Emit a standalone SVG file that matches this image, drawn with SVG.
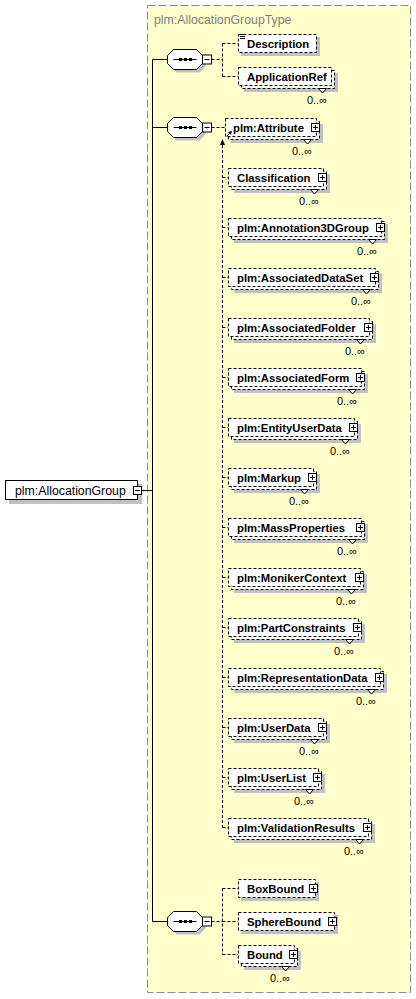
<svg xmlns="http://www.w3.org/2000/svg" xmlns:xlink="http://www.w3.org/1999/xlink" width="416" height="999" viewBox="0 0 416 999">
<style>
.bg{fill:#FFFFCC;stroke:#8c8c8c;stroke-dasharray:8 3}
.title{font-family:"Liberation Sans",Arial,sans-serif;font-size:12.3px;fill:#808080}
.root{font-family:"Liberation Sans",Arial,sans-serif;font-size:12.3px;fill:#000}
.nm{font-family:"Liberation Sans",Arial,sans-serif;font-weight:bold;font-size:11.3px;fill:#000}
.occ{font-family:"Liberation Sans",Arial,sans-serif;font-size:11px;fill:#000;text-anchor:end}
.sh{fill:#c0c0c0;stroke:none}
.bx{fill:#fff;stroke:#000;stroke-dasharray:3 2}
.sbx{fill:#fff;stroke:#000}
.tri{fill:#fff;stroke:#000}
.cd{fill:none;stroke:#000;stroke-dasharray:3 2}
.cs{fill:none;stroke:#000}
</style>
<defs>
<g id="plus"><rect x="0.5" y="0.5" width="8" height="8" fill="#fff" stroke="#000"/><path d="M2 4.5h5M4.5 2v5" stroke="#000" fill="none"/></g>
<g id="seq">
<polygon class="sh" points="176.5,-7 199.5,-7 205.5,-1 205.5,7 199.5,13 176.5,13 170.5,7 170.5,-1"/>
<polygon fill="#fff" stroke="#000" points="173.5,-10 196.5,-10 202.5,-4 202.5,4 196.5,10 173.5,10 167.5,4 167.5,-4"/>
<path d="M173.5 0H196.5" stroke="#000" fill="none"/>
<rect x="179" y="-1.5" width="3" height="3" fill="#000"/>
<rect x="184" y="-1.5" width="3" height="3" fill="#000"/>
<rect x="189" y="-1.5" width="3" height="3" fill="#000"/>
<rect x="202.5" y="-4.5" width="9" height="9" fill="#fff" stroke="#000"/>
<path d="M204.5 0H209.5" stroke="#000"/>
</g>
</defs>

<rect class="bg" x="147.5" y="5.5" width="263" height="987"/>
<text class="title" x="154" y="23.5">plm:AllocationGroupType</text>

<g id="connectors">
<path class="cs" d="M142 490.5H152.5M152.5 59.5V921.5"/>
<path class="cs" d="M152.5 59.5H167.5M152.5 127.5H167.5M152.5 921.5H167.5"/>
<path class="cd" d="M211.5 59.5H222.5M222.5 43.5V76.5M222.5 43.5H238M222.5 76.5H238"/>
<path class="cd" d="M211.5 127.5H225"/>
<path class="cd" d="M222.5 140V827.5"/>
<path class="cd" d="M222.5 177.5H228M222.5 227.5H228M222.5 277.5H228M222.5 327.5H228M222.5 377.5H228M222.5 427.5H228M222.5 477.5H228M222.5 527.5H228M222.5 577.5H228M222.5 627.5H228M222.5 677.5H228M222.5 727.5H228M222.5 777.5H228M222.5 827.5H228"/>
<polygon points="220,145 225,145 222.5,139" fill="#000"/>
<path class="cd" d="M211.5 921.5H222.5M222.5 888.5V954.5M222.5 888.5H238M222.5 921.5H238M222.5 954.5H238"/>
</g>

<g id="seq1"><use xlink:href="#seq" href="#seq" transform="translate(0,59.5)"/></g>
<g id="seq2"><use xlink:href="#seq" href="#seq" transform="translate(0,127.5)"/></g>
<g id="seq3"><use xlink:href="#seq" href="#seq" transform="translate(0,921.5)"/></g>

<g id="root">
<rect class="sh" x="9" y="484" width="133" height="20"/>
<rect class="sbx" x="5.5" y="480.5" width="132" height="19"/>
<text class="root" x="15" y="494.5">plm:AllocationGroup</text>
<rect x="133.5" y="486.5" width="8" height="8" fill="#fff" stroke="#000"/>
<path d="M135 490.5h5" stroke="#000"/>
</g>

<g id="Description" transform="translate(238,43)">
<rect class="sh" x="3" y="-6" width="79" height="19"/>
<rect class="bx" x="0.5" y="-8.5" width="78" height="18"/>
<path d="M3 -8.5h4M2 -6.5h5M2 -4.5h5" stroke="#000"/>
<text class="nm" x="9" y="4.5">Description</text>
</g>

<g id="ApplicationRef" transform="translate(238,76)">
<rect class="sh" x="6" y="-3" width="94" height="19"/>
<rect class="bx" x="3.5" y="-5.5" width="93" height="18"/>
<rect class="bx" x="0.5" y="-8.5" width="93" height="18"/>
<polygon class="tri" points="80.5,12.5 88.5,12.5 84.5,17"/>
<text class="nm" x="9" y="4.5">ApplicationRef</text>
<text class="occ" x="89" y="28">0..∞</text>
</g>

<g id="Attribute" transform="translate(225,127)">
<rect class="sh" x="6" y="-3" width="92" height="19"/>
<rect class="bx" x="3.5" y="-5.5" width="91" height="18"/>
<rect class="bx" x="0.5" y="-8.5" width="91" height="18"/>
<path d="M1.5 9.5L6 5" stroke="#000"/>
<polygon points="7,4 3,5 6,8" fill="#000"/>
<text class="nm" x="8" y="4.5">plm:Attribute</text>
<use xlink:href="#plus" href="#plus" x="86" y="-4"/>
<polygon class="tri" points="78.5,12.5 86.5,12.5 82.5,17"/>
<text class="occ" x="87" y="28">0..∞</text>
</g>

<g id="Classification" transform="translate(228,177)">
<rect class="sh" x="6" y="-3" width="96" height="19"/>
<rect class="bx" x="3.5" y="-5.5" width="95" height="18"/>
<rect class="bx" x="0.5" y="-8.5" width="95" height="18"/>
<text class="nm" x="9" y="4.5">Classification</text>
<use xlink:href="#plus" href="#plus" x="90" y="-4"/>
<polygon class="tri" points="82.5,12.5 90.5,12.5 86.5,17"/>
<text class="occ" x="91" y="28">0..∞</text>
</g>

<g id="Annotation3DGroup" transform="translate(228,227)">
<rect class="sh" x="6" y="-3" width="154" height="19"/>
<rect class="bx" x="3.5" y="-5.5" width="153" height="18"/>
<rect class="bx" x="0.5" y="-8.5" width="153" height="18"/>
<text class="nm" x="9" y="4.5">plm:Annotation3DGroup</text>
<use xlink:href="#plus" href="#plus" x="148" y="-4"/>
<polygon class="tri" points="140.5,12.5 148.5,12.5 144.5,17"/>
<text class="occ" x="149" y="28">0..∞</text>
</g>

<g id="AssociatedDataSet" transform="translate(228,277)">
<rect class="sh" x="6" y="-3" width="148" height="19"/>
<rect class="bx" x="3.5" y="-5.5" width="147" height="18"/>
<rect class="bx" x="0.5" y="-8.5" width="147" height="18"/>
<text class="nm" x="9" y="4.5">plm:AssociatedDataSet</text>
<use xlink:href="#plus" href="#plus" x="142" y="-4"/>
<polygon class="tri" points="134.5,12.5 142.5,12.5 138.5,17"/>
<text class="occ" x="143" y="28">0..∞</text>
</g>

<g id="AssociatedFolder" transform="translate(228,327)">
<rect class="sh" x="6" y="-3" width="142" height="19"/>
<rect class="bx" x="3.5" y="-5.5" width="141" height="18"/>
<rect class="bx" x="0.5" y="-8.5" width="141" height="18"/>
<text class="nm" x="9" y="4.5">plm:AssociatedFolder</text>
<use xlink:href="#plus" href="#plus" x="136" y="-4"/>
<polygon class="tri" points="128.5,12.5 136.5,12.5 132.5,17"/>
<text class="occ" x="137" y="28">0..∞</text>
</g>

<g id="AssociatedForm" transform="translate(228,377)">
<rect class="sh" x="6" y="-3" width="134" height="19"/>
<rect class="bx" x="3.5" y="-5.5" width="133" height="18"/>
<rect class="bx" x="0.5" y="-8.5" width="133" height="18"/>
<text class="nm" x="9" y="4.5">plm:AssociatedForm</text>
<use xlink:href="#plus" href="#plus" x="128" y="-4"/>
<polygon class="tri" points="120.5,12.5 128.5,12.5 124.5,17"/>
<text class="occ" x="129" y="28">0..∞</text>
</g>

<g id="EntityUserData" transform="translate(228,427)">
<rect class="sh" x="6" y="-3" width="127" height="19"/>
<rect class="bx" x="3.5" y="-5.5" width="126" height="18"/>
<rect class="bx" x="0.5" y="-8.5" width="126" height="18"/>
<text class="nm" x="9" y="4.5">plm:EntityUserData</text>
<use xlink:href="#plus" href="#plus" x="121" y="-4"/>
<polygon class="tri" points="113.5,12.5 121.5,12.5 117.5,17"/>
<text class="occ" x="122" y="28">0..∞</text>
</g>

<g id="Markup" transform="translate(228,477)">
<rect class="sh" x="6" y="-3" width="86" height="19"/>
<rect class="bx" x="3.5" y="-5.5" width="85" height="18"/>
<rect class="bx" x="0.5" y="-8.5" width="85" height="18"/>
<text class="nm" x="9" y="4.5">plm:Markup</text>
<use xlink:href="#plus" href="#plus" x="80" y="-4"/>
<polygon class="tri" points="72.5,12.5 80.5,12.5 76.5,17"/>
<text class="occ" x="81" y="28">0..∞</text>
</g>

<g id="MassProperties" transform="translate(228,527)">
<rect class="sh" x="6" y="-3" width="134" height="19"/>
<rect class="bx" x="3.5" y="-5.5" width="133" height="18"/>
<rect class="bx" x="0.5" y="-8.5" width="133" height="18"/>
<text class="nm" x="9" y="4.5">plm:MassProperties</text>
<use xlink:href="#plus" href="#plus" x="128" y="-4"/>
<polygon class="tri" points="120.5,12.5 128.5,12.5 124.5,17"/>
<text class="occ" x="129" y="28">0..∞</text>
</g>

<g id="MonikerContext" transform="translate(228,577)">
<rect class="sh" x="6" y="-3" width="133" height="19"/>
<rect class="bx" x="3.5" y="-5.5" width="132" height="18"/>
<rect class="bx" x="0.5" y="-8.5" width="132" height="18"/>
<text class="nm" x="9" y="4.5">plm:MonikerContext</text>
<use xlink:href="#plus" href="#plus" x="127" y="-4"/>
<polygon class="tri" points="119.5,12.5 127.5,12.5 123.5,17"/>
<text class="occ" x="128" y="28">0..∞</text>
</g>

<g id="PartConstraints" transform="translate(228,627)">
<rect class="sh" x="6" y="-3" width="131" height="19"/>
<rect class="bx" x="3.5" y="-5.5" width="130" height="18"/>
<rect class="bx" x="0.5" y="-8.5" width="130" height="18"/>
<text class="nm" x="9" y="4.5">plm:PartConstraints</text>
<use xlink:href="#plus" href="#plus" x="125" y="-4"/>
<polygon class="tri" points="117.5,12.5 125.5,12.5 121.5,17"/>
<text class="occ" x="126" y="28">0..∞</text>
</g>

<g id="RepresentationData" transform="translate(228,677)">
<rect class="sh" x="6" y="-3" width="153" height="19"/>
<rect class="bx" x="3.5" y="-5.5" width="152" height="18"/>
<rect class="bx" x="0.5" y="-8.5" width="152" height="18"/>
<text class="nm" x="9" y="4.5">plm:RepresentationData</text>
<use xlink:href="#plus" href="#plus" x="147" y="-4"/>
<polygon class="tri" points="139.5,12.5 147.5,12.5 143.5,17"/>
<text class="occ" x="148" y="28">0..∞</text>
</g>

<g id="UserData" transform="translate(228,727)">
<rect class="sh" x="6" y="-3" width="96" height="19"/>
<rect class="bx" x="3.5" y="-5.5" width="95" height="18"/>
<rect class="bx" x="0.5" y="-8.5" width="95" height="18"/>
<text class="nm" x="9" y="4.5">plm:UserData</text>
<use xlink:href="#plus" href="#plus" x="90" y="-4"/>
<polygon class="tri" points="82.5,12.5 90.5,12.5 86.5,17"/>
<text class="occ" x="91" y="28">0..∞</text>
</g>

<g id="UserList" transform="translate(228,777)">
<rect class="sh" x="6" y="-3" width="91" height="19"/>
<rect class="bx" x="3.5" y="-5.5" width="90" height="18"/>
<rect class="bx" x="0.5" y="-8.5" width="90" height="18"/>
<text class="nm" x="9" y="4.5">plm:UserList</text>
<use xlink:href="#plus" href="#plus" x="85" y="-4"/>
<polygon class="tri" points="77.5,12.5 85.5,12.5 81.5,17"/>
<text class="occ" x="86" y="28">0..∞</text>
</g>

<g id="ValidationResults" transform="translate(228,827)">
<rect class="sh" x="6" y="-3" width="141" height="19"/>
<rect class="bx" x="3.5" y="-5.5" width="140" height="18"/>
<rect class="bx" x="0.5" y="-8.5" width="140" height="18"/>
<text class="nm" x="9" y="4.5">plm:ValidationResults</text>
<use xlink:href="#plus" href="#plus" x="135" y="-4"/>
<polygon class="tri" points="127.5,12.5 135.5,12.5 131.5,17"/>
<text class="occ" x="136" y="28">0..∞</text>
</g>

<g id="BoxBound" transform="translate(238,888)">
<rect class="sh" x="3" y="-6" width="78" height="19"/>
<rect class="bx" x="0.5" y="-8.5" width="77" height="18"/>
<text class="nm" x="9" y="4.5">BoxBound</text>
<use xlink:href="#plus" href="#plus" x="71" y="-4"/>
</g>

<g id="SphereBound" transform="translate(238,921)">
<rect class="sh" x="3" y="-6" width="97" height="19"/>
<rect class="bx" x="0.5" y="-8.5" width="96" height="18"/>
<text class="nm" x="9" y="4.5">SphereBound</text>
<use xlink:href="#plus" href="#plus" x="90" y="-4"/>
</g>

<g id="Bound" transform="translate(238,954)">
<rect class="sh" x="6" y="-3" width="57" height="19"/>
<rect class="bx" x="3.5" y="-5.5" width="56" height="18"/>
<rect class="bx" x="0.5" y="-8.5" width="56" height="18"/>
<text class="nm" x="9" y="4.5">Bound</text>
<use xlink:href="#plus" href="#plus" x="51" y="-4"/>
<polygon class="tri" points="43.5,12.5 51.5,12.5 47.5,17"/>
<text class="occ" x="52" y="28">0..∞</text>
</g>
</svg>
